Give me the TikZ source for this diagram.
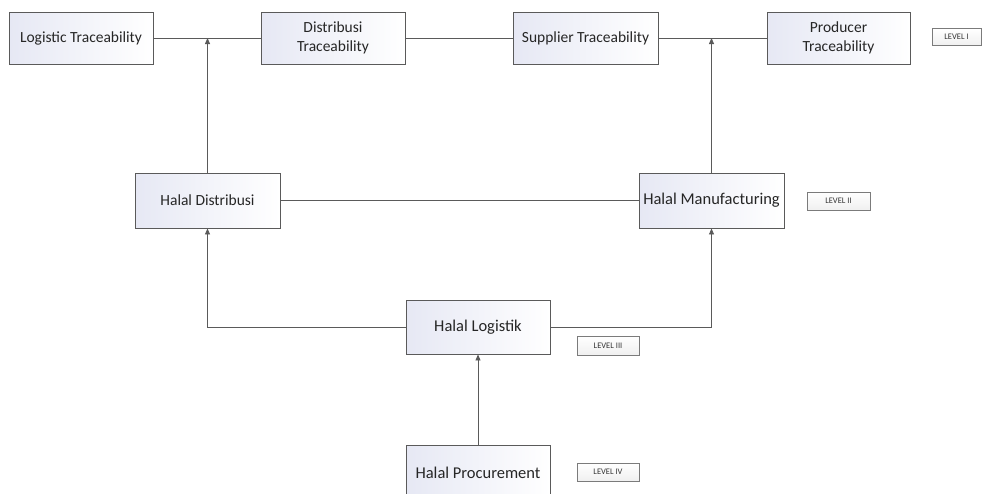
\documentclass[tikz,border=0pt]{standalone}
\usepackage{fontspec}
\setmainfont{Carlito}
\usetikzlibrary{arrows.meta}
\definecolor{boxline}{HTML}{5A5A5A}
\definecolor{boxshade}{HTML}{E6E8F4}
\tikzset{
  mainbox/.style={draw=boxline, line width=0.9pt, left color=boxshade, right color=white,
    minimum height=52pt, align=center, font=\fontsize{15.5}{18.5}\selectfont, text=black!85, inner sep=2pt},
  levelbox/.style={draw=boxline!80, line width=0.8pt, top color=white, bottom color=black!6,
    minimum height=17pt, font=\fontsize{8.5}{9}\selectfont, text=black!80, inner sep=1pt},
  conn/.style={draw=boxline, line width=0.8pt},
  arr/.style={conn, -{Triangle[length=6pt,width=5pt]}}
}
\begin{document}
\begin{tikzpicture}[x=1pt,y=-1pt]
\useasboundingbox (0,0) rectangle (984,493);
\begin{scope}
\clip (0,0) rectangle (984,493);
% top level
\node[mainbox, minimum width=144pt] (lt) at (81,38) {Logistic Traceability};
\node[mainbox, minimum width=144pt] (dt) at (333,38) {Distribusi\\Traceability};
\node[mainbox, minimum width=145pt] (st) at (585.5,38) {Supplier Traceability};
\node[mainbox, minimum width=143pt] (pt) at (838.5,38) {Producer\\Traceability};
\node[levelbox, minimum width=49pt] (l1) at (956.5,37) {LEVEL I};
% level II
\node[mainbox, minimum width=145pt, minimum height=55pt] (hd) at (207.5,200.5) {Halal Distribusi};
\node[mainbox, minimum width=145pt, minimum height=55pt, font=\fontsize{16.5}{19}\selectfont] (hm) at (711.5,200.5) {Halal Manufacturing};
\node[levelbox, minimum width=63pt, minimum height=18pt] (l2) at (838.5,201) {LEVEL II};
% level III
\node[mainbox, minimum width=144pt, minimum height=54pt, font=\fontsize{16.5}{19}\selectfont] (hl) at (478,327) {Halal Logistik};
\node[levelbox, minimum width=62pt, minimum height=19pt] (l3) at (608,345.5) {LEVEL III};
% level IV
\node[mainbox, minimum width=144pt, minimum height=56pt, font=\fontsize{16.5}{19}\selectfont] (hp) at (478,473) {Halal Procurement};
\node[levelbox, minimum width=62pt, minimum height=18pt] (l4) at (608,472) {LEVEL IV};
% connectors
\coordinate (ja) at (207.5,38);
\coordinate (jb) at (711.5,38);
\draw[conn] (lt) -- (dt);
\draw[conn] (dt) -- (st);
\draw[conn] (st) -- (pt);
\draw[arr] (hd.north) -- (ja);
\draw[arr] (hm.north) -- (jb);
\draw[conn] (hd) -- (hm);
\draw[arr] (hl.west) -| (hd.south);
\draw[arr] (hl.east) -| (hm.south);
\draw[arr] (hp.north) -- (hl.south);
\end{scope}
\end{tikzpicture}
\end{document}
